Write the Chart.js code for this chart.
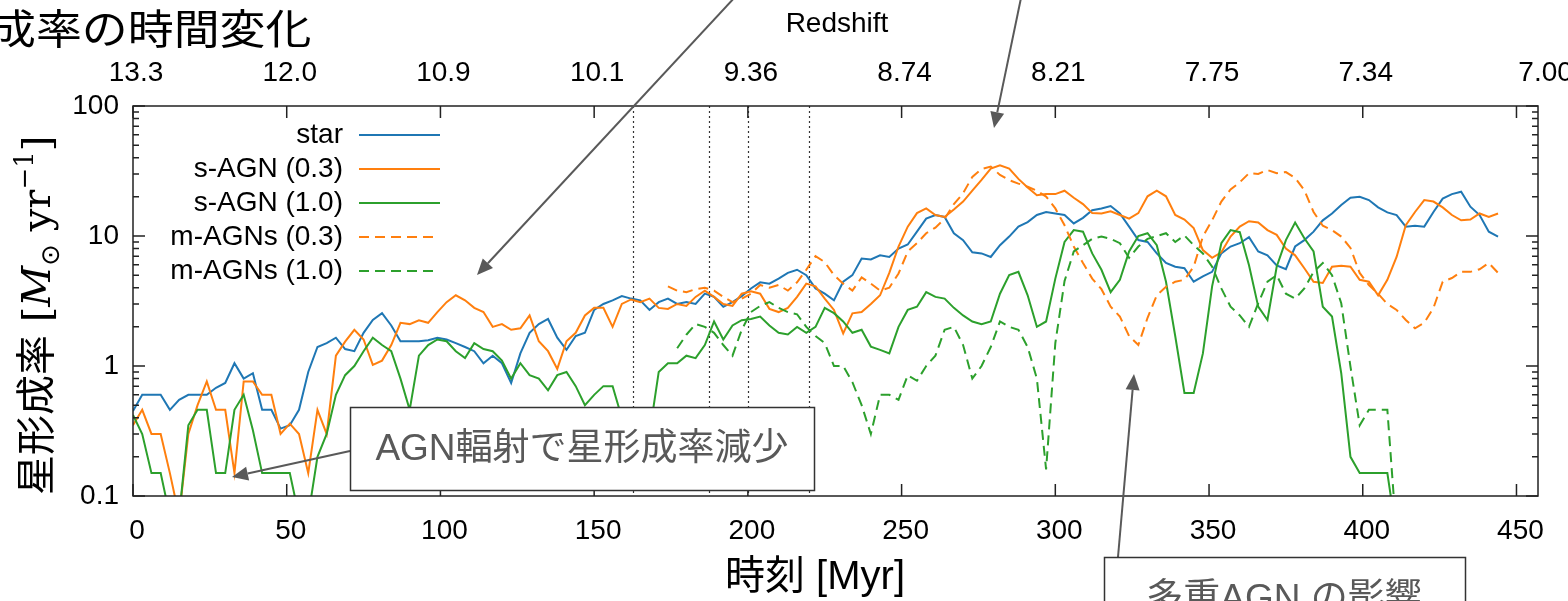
<!DOCTYPE html>
<html>
<head>
<meta charset="utf-8">
<script src="https://cdn.jsdelivr.net/npm/chart.js@4.4.1/dist/chart.umd.min.js"></script>
<style>
html, body { margin: 0; padding: 0; background: #fff; }
canvas { display: block; }
</style>
</head>
<body>
<canvas id="sfrChart" width="1568" height="601"></canvas>
<script>
// time [Myr]
var times = [0,3,6,9,12,15,18,21,24,27,30,33,36,39,42,45,48,51,54,57,60,63,66,69,72,75,78,81,84,87,
  90,93,96,99,102,105,108,111,114,117,120,123,126,129,132,135,138,141,144,147,150,153,156,159,162,165,168,171,174,177,
  180,183,186,189,192,195,198,201,204,207,210,213,216,219,222,225,228,231,234,237,240,243,246,249,252,255,258,261,264,267,
  270,273,276,279,282,285,288,291,294,297,300,303,306,309,312,315,318,321,324,327,330,333,336,339,342,345,348,351,354,357,
  360,363,366,369,372,375,378,381,384,387,390,393,396,399,402,405,408,411,414,417,420,423,426,429,432,435,438,441,444];

// star formation rate [Msun/yr]
var starSfr = [0.45,0.6,0.6,0.6,0.46,0.55,0.6,0.6,0.6,0.68,0.74,1.05,0.8,0.88,0.46,0.46,0.33,0.35,0.46,0.9,
  1.4,1.5,1.65,1.35,1.3,1.8,2.26,2.55,2.05,1.55,1.55,1.55,1.58,1.65,1.6,1.5,1.4,1.3,1.05,1.2,
  1.05,0.74,1.25,1.8,2.1,2.3,1.65,1.33,1.7,1.8,2.7,3.0,3.2,3.45,3.3,3.2,2.7,3.1,3.3,3.0,
  3.1,3.0,3.6,3.4,2.85,3.1,3.45,3.95,4.4,4.3,4.7,5.2,5.5,5.0,3.95,3.6,3.2,4.45,5.0,6.7,
  6.6,7.1,6.9,8.0,8.6,10.8,13.6,14.5,14.0,10.5,9.3,7.5,7.35,6.9,8.5,9.9,11.8,12.8,14.5,15.3,
  14.9,14.5,12.5,13.8,15.8,16.3,17.0,14.9,11.8,9.3,9.0,7.35,6.2,5.8,5.65,4.45,4.9,5.3,7.35,8.3,
  8.8,9.8,7.6,7.1,5.95,5.55,8.3,9.3,10.8,13.2,14.9,17.3,19.7,20,18.9,16.6,15.2,14.5,11.8,12.0,
  11.8,15.3,19.4,21.0,21.9,16.8,14.5,10.8,9.9];

var sAgn03 = [0.35,0.46,0.3,0.3,0.15,0.07,0.3,0.5,0.76,0.46,0.46,0.15,0.76,0.76,0.6,0.6,0.3,0.36,0.3,0.15,
  0.46,0.3,1.2,1.54,1.9,1.6,1.02,1.1,1.45,2.15,2.1,2.25,2.15,2.6,3.1,3.5,3.2,2.8,2.6,2.0,
  2.1,1.9,1.95,2.45,1.55,1.3,0.95,1.55,1.8,2.45,2.8,2.8,2.0,3.0,3.25,3.1,3.3,2.8,2.75,3.0,
  2.9,3.4,3.8,3.4,3.0,2.9,3.6,3.75,3.6,2.75,2.6,2.8,3.4,4.3,4.1,3.3,2.7,1.78,2.54,2.6,
  3.0,3.5,5.2,8.3,11.8,15.0,16.3,14.5,14.0,16.0,18.4,22.3,27,33,35,33,27.5,23.6,20.6,21,
  21,22.3,19.7,17.6,15,14.9,15.5,14.5,13.6,15.0,20.2,22.3,20.2,14.5,13.4,11.5,7.8,6.8,7.5,9.9,
  11.8,13.0,12.7,11.1,10.2,8.0,7.1,5.65,4.45,4.35,5.8,5.9,5.8,4.6,4.45,3.5,4.6,6.9,12.1,15.3,
  18.9,18.4,16.6,14.5,13.2,13.4,14.9,14.0,14.9];

var sAgn10 = [0.42,0.3,0.15,0.15,0.07,0.07,0.35,0.46,0.46,0.15,0.15,0.46,0.6,0.32,0.15,0.15,0.15,0.15,0.07,0.07,
  0.2,0.3,0.6,0.85,1.0,1.3,1.65,1.45,1.3,0.8,0.46,1.2,1.45,1.6,1.55,1.3,1.15,1.5,1.35,1.3,
  1.1,0.8,1.05,0.85,0.8,0.65,0.85,0.9,0.7,0.5,0.6,0.7,0.7,0.4,0.2,0.15,0.3,0.9,1.05,1.05,
  1.2,1.15,1.45,2.2,1.6,2.05,2.25,2.3,2.4,2.05,1.8,1.75,2.0,1.8,2.0,2.8,2.55,2.2,1.8,1.9,
  1.41,1.33,1.25,2.0,2.7,2.86,3.7,3.4,3.3,2.8,2.45,2.2,2.1,2.2,3.6,5.0,5.3,3.5,2.0,2.2,
  4.7,9.0,11.1,10.8,7.35,5.5,3.7,4.6,7.6,10,10.5,8.5,4.45,1.7,0.62,0.62,1.25,4.1,8.8,11.1,
  10.7,5.95,2.86,2.26,5.8,9.3,12.7,9.6,7.6,2.86,2.4,0.88,0.2,0.15,0.15,0.15,0.15,0.05,null,null,
  null,null,null,null,null,null,null,null,null];

var mAgn03 = [null,null,null,null,null,null,null,null,null,null,null,null,null,null,null,null,null,null,null,null,
  null,null,null,null,null,null,null,null,null,null,null,null,null,null,null,null,null,null,null,null,
  null,null,null,null,null,null,null,null,null,null,null,null,null,null,null,null,null,null,4.1,3.8,
  3.7,3.9,4.0,3.8,3.4,3.1,3.3,3.6,4.2,4.0,4.2,3.8,4.4,5.5,7.0,6.3,5.0,4.3,3.8,4.8,
  4.3,3.8,4.0,5.15,7.6,8.8,10.5,11.6,13.6,17.6,21.3,28.5,32.7,34.2,29.5,26.9,25.3,23.9,22.3,20.1,
  16.3,12.1,8.3,6.2,4.7,3.9,2.86,2.4,1.7,1.45,2.35,3.5,4.07,4.45,4.6,5.8,9.9,13.2,18.4,22.8,
  25.9,30.4,30,32.2,30.4,31,28,22.5,15.3,12,11.1,9.9,8.1,5.2,4.2,3.6,3.0,2.7,2.26,1.95,
  2.15,2.8,4.45,4.75,5.3,5.3,5.55,6.2,5.2];

var mAgn10 = [null,null,null,null,null,null,null,null,null,null,null,null,null,null,null,null,null,null,null,null,
  null,null,null,null,null,null,null,null,null,null,null,null,null,null,null,null,null,null,null,null,
  null,null,null,null,null,null,null,null,null,null,null,null,null,null,null,null,null,null,null,1.37,
  1.74,2.1,2.0,1.8,1.45,1.2,1.9,2.6,2.9,3.1,2.8,2.6,2.5,2.0,1.7,1.5,1.0,1.0,0.75,0.5,
  0.3,0.6,0.6,0.55,0.85,0.77,1.0,1.2,1.9,2.0,1.45,0.8,1.0,1.4,2.2,2.0,1.9,1.4,0.8,0.16,
  1.5,4.5,7.6,8.5,9.5,9.9,9.5,8.8,6.8,8.3,9.5,10.0,10.5,9.0,10.1,8.5,7.35,5.8,3.95,2.86,
  2.45,2.0,3.04,4.45,5.0,3.6,3.3,3.95,5.3,6.2,5.0,3.04,0.99,0.35,0.46,0.46,0.46,0.05,null,null,
  null,null,null,null,null,null,null,null,null];

var seriesLabels = ['star', 's-AGN (0.3)', 's-AGN (1.0)', 'm-AGNs (0.3)', 'm-AGNs (1.0)'];
var xTicks = [0, 50, 100, 150, 200, 250, 300, 350, 400, 450];
var yTicks = [0.1, 1, 10, 100];
var yTickLabels = ['0.1', '1', '10', '100'];
var redshiftAt = [0, 50, 100, 150, 200, 250, 300, 350, 400, 458.5];
var redshiftLabels = ['13.3', '12.0', '10.9', '10.1', '9.36', '8.74', '8.21', '7.75', '7.34', '7.00'];
var markerTimes = [162.5, 187.5, 200, 220];

var BLUE = '#1f77b4', ORANGE = '#ff7f0e', GREEN = '#2ca02c', NOTE = '#595959';
var LATIN = "'Liberation Sans', Arial, sans-serif";
var JP = "'Liberation Sans', 'Noto Sans CJK JP', sans-serif";

function toPoints(arr) {
  return times.map(function (t, i) { return { x: t, y: arr[i] }; });
}

function stretchText(ctx, text, x, y, font, color, align, sx) {
  ctx.save();
  ctx.font = font;
  ctx.fillStyle = color;
  ctx.textAlign = align;
  ctx.textBaseline = 'middle';
  ctx.translate(x, y);
  ctx.scale(sx, 1);
  ctx.fillText(text, 0, 0);
  ctx.restore();
}

function arrow(ctx, x1, y1, x2, y2) {
  var ang = Math.atan2(y2 - y1, x2 - x1), L = 16, W = 7;
  var bx = x2 - L * Math.cos(ang), by = y2 - L * Math.sin(ang);
  ctx.beginPath();
  ctx.moveTo(x1, y1);
  ctx.lineTo(bx, by);
  ctx.stroke();
  ctx.beginPath();
  ctx.moveTo(x2, y2);
  ctx.lineTo(bx + W * Math.sin(ang), by - W * Math.cos(ang));
  ctx.lineTo(bx - W * Math.sin(ang), by + W * Math.cos(ang));
  ctx.closePath();
  ctx.fill();
}

var decor = {
  id: 'decor',
  beforeDatasetsDraw: function (chart) {
    var ctx = chart.ctx, a = chart.chartArea, xs = chart.scales.x;
    ctx.save();
    ctx.strokeStyle = '#333';
    ctx.lineWidth = 1.2;
    ctx.setLineDash([2, 3]);
    markerTimes.forEach(function (t) {
      var px = Math.round(xs.getPixelForValue(t)) + 0.5;
      ctx.beginPath();
      ctx.moveTo(px, a.top);
      ctx.lineTo(px, a.bottom);
      ctx.stroke();
    });
    ctx.restore();
  },
  afterDraw: function (chart) {
    var ctx = chart.ctx, a = chart.chartArea, xs = chart.scales.x, ys = chart.scales.y;
    ctx.save();

    // frame and inward ticks
    ctx.strokeStyle = '#222';
    ctx.lineWidth = 1.5;
    ctx.strokeRect(a.left, a.top, a.right - a.left, a.bottom - a.top);
    ctx.beginPath();
    xTicks.forEach(function (v) {
      var px = xs.getPixelForValue(v);
      ctx.moveTo(px, a.bottom); ctx.lineTo(px, a.bottom - 12);
      ctx.moveTo(px, a.top); ctx.lineTo(px, a.top + 12);
    });
    [0.1, 1, 10].forEach(function (d) {
      for (var k = 1; k <= 9; k++) {
        var py = ys.getPixelForValue(d * k), len = k === 1 ? 12 : 6;
        ctx.moveTo(a.left, py); ctx.lineTo(a.left + len, py);
        ctx.moveTo(a.right, py); ctx.lineTo(a.right - len, py);
      }
    });
    ctx.moveTo(a.left, a.top); ctx.lineTo(a.left + 12, a.top);
    ctx.moveTo(a.right, a.top); ctx.lineTo(a.right - 12, a.top);
    ctx.stroke();

    // top redshift axis
    redshiftAt.forEach(function (v, i) {
      stretchText(ctx, redshiftLabels[i], xs.getPixelForValue(v) + 3, 73, '28px ' + LATIN, '#000', 'center', 1);
    });
    stretchText(ctx, 'Redshift', 837, 24, '28px ' + LATIN, '#000', 'center', 1);

    // legend
    var rows = [135, 169, 203, 237, 271];
    chart.data.datasets.forEach(function (ds, i) {
      stretchText(ctx, ds.label, 343, rows[i], '28px ' + LATIN, '#000', 'right', 1);
      ctx.save();
      ctx.strokeStyle = ds.borderColor;
      ctx.lineWidth = 2;
      ctx.setLineDash(ds.borderDash || []);
      ctx.beginPath();
      ctx.moveTo(359, rows[i]);
      ctx.lineTo(ds.borderDash ? 434 : 440, rows[i]);
      ctx.stroke();
      ctx.restore();
    });

    // axis titles
    stretchText(ctx, '時刻 [Myr]', 815, 578, '40px ' + JP, '#000', 'center', 1);
    ctx.save();
    ctx.translate(50, 495);
    ctx.rotate(-Math.PI / 2);
    ctx.fillStyle = '#000';
    ctx.textBaseline = 'alphabetic';
    ctx.textAlign = 'left';
    var pos = 0;
    function piece(text, font, dy) {
      ctx.font = font;
      ctx.fillText(text, pos, dy);
      pos += ctx.measureText(text).width;
    }
    piece('星形成率', "40px 'Noto Sans CJK JP'", 0);
    piece(' [', "40px 'DejaVu Serif'", 0);
    piece('M', "italic 40px 'DejaVu Serif'", 0);
    piece('⊙', "26px 'DejaVu Sans'", 9);
    piece(' yr', "40px 'DejaVu Serif'", 0);
    piece('−1', "26px 'DejaVu Serif'", -17);
    piece(']', "40px 'DejaVu Serif'", 0);
    ctx.restore();

    // slide annotations
    ctx.strokeStyle = NOTE;
    ctx.fillStyle = NOTE;
    ctx.lineWidth = 2;
    arrow(ctx, 736, -4, 477, 275);
    arrow(ctx, 1021, -2, 994, 128);
    arrow(ctx, 1118, 557, 1134, 374);
    arrow(ctx, 350, 451, 232, 477);

    ctx.fillStyle = '#fff';
    ctx.strokeStyle = '#333';
    ctx.lineWidth = 1.5;
    ctx.fillRect(350.5, 407.5, 464, 83);
    ctx.strokeRect(350.5, 407.5, 464, 83);
    ctx.fillRect(1104.5, 557.5, 361, 83);
    ctx.strokeRect(1104.5, 557.5, 361, 83);
    stretchText(ctx, 'AGN輻射で星形成率減少', 582, 450, '37px ' + JP, NOTE, 'center', 1);
    stretchText(ctx, '多重AGN の影響', 1284, 600, '37px ' + JP, NOTE, 'center', 1);

    stretchText(ctx, '成率の時間変化', -10, 28, "41px 'Noto Sans CJK JP'", '#000', 'left', 1.12);
    ctx.restore();
  }
};

Chart.defaults.font.family = LATIN;

var ctx = document.getElementById('sfrChart');
new Chart(ctx, {
  type: 'line',
  data: {
    datasets: [
      { label: seriesLabels[0], data: toPoints(starSfr), borderColor: BLUE, order: 5 },
      { label: seriesLabels[1], data: toPoints(sAgn03), borderColor: ORANGE, order: 4 },
      { label: seriesLabels[2], data: toPoints(sAgn10), borderColor: GREEN, order: 3 },
      { label: seriesLabels[3], data: toPoints(mAgn03), borderColor: ORANGE, borderDash: [10, 6], order: 2 },
      { label: seriesLabels[4], data: toPoints(mAgn10), borderColor: GREEN, borderDash: [10, 6], order: 1 }
    ]
  },
  options: {
    responsive: false,
    animation: false,
    layout: { padding: { top: 106, right: 30, left: 0, bottom: 0 } },
    elements: {
      point: { radius: 0 },
      line: { borderWidth: 2, tension: 0, fill: false }
    },
    plugins: { legend: { display: false }, tooltip: { enabled: false } },
    scales: {
      x: {
        type: 'linear',
        min: 0,
        max: 457,
        afterBuildTicks: function (s) { s.ticks = xTicks.map(function (v) { return { value: v }; }); },
        afterFit: function (s) { s.height = 105; },
        grid: { display: false, drawTicks: false },
        border: { display: false },
        ticks: { font: { size: 28 }, color: '#000', padding: 18, labelOffset: 4, maxRotation: 0, autoSkip: false,
          callback: function (v) { return String(v); } }
      },
      y: {
        type: 'logarithmic',
        min: 0.1,
        max: 100,
        afterBuildTicks: function (s) { s.ticks = yTicks.map(function (v) { return { value: v }; }); },
        afterFit: function (s) { s.width = 133; },
        grid: { display: false, drawTicks: false },
        border: { display: false },
        ticks: { font: { size: 28 }, color: '#000', padding: 14, autoSkip: false,
          callback: function (v) { return yTickLabels[yTicks.indexOf(v)]; } }
      }
    }
  },
  plugins: [decor]
});
</script>
</body>
</html>
